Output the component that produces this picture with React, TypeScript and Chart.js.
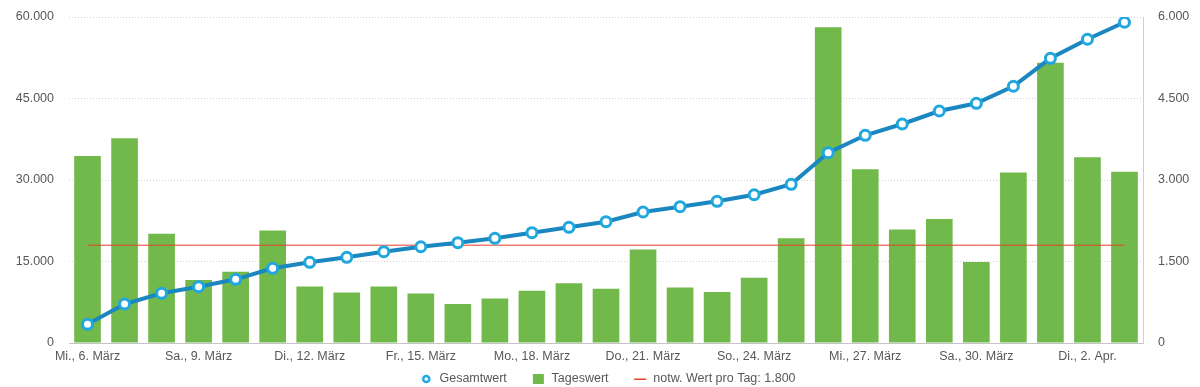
import React, { useEffect, useRef } from "react";
import { Chart, registerables } from "chart.js";

Chart.register(...registerables);

const categories = [
  "Mi., 6. März", "Do., 7. März", "Fr., 8. März", "Sa., 9. März", "So., 10. März",
  "Mo., 11. März", "Di., 12. März", "Mi., 13. März", "Do., 14. März", "Fr., 15. März",
  "Sa., 16. März", "So., 17. März", "Mo., 18. März", "Di., 19. März", "Mi., 20. März",
  "Do., 21. März", "Fr., 22. März", "Sa., 23. März", "So., 24. März", "Mo., 25. März",
  "Di., 26. März", "Mi., 27. März", "Do., 28. März", "Fr., 29. März", "Sa., 30. März",
  "So., 31. März", "Mo., 1. Apr.", "Di., 2. Apr.", "Mi., 3. Apr.",
];

const gesamtwert = [
  3440, 7180, 9150, 10360, 11720, 13750, 14850, 15770, 16800, 17720,
  18460, 19270, 20300, 21290, 22330, 24110, 25090, 26080, 27290, 29210,
  35030, 38230, 40310, 42700, 44120, 47250, 52400, 55900, 59030,
];

const tageswert = [
  3440, 3770, 2010, 1160, 1310, 2070, 1040, 930, 1040, 910,
  720, 820, 960, 1100, 1000, 1720, 1020, 940, 1200, 1930,
  5810, 3200, 2090, 2280, 1490, 3140, 5160, 3420, 3150,
];

const targetPerDay = 1800;
const targetLine = categories.map(() => targetPerDay);

const leftMax = 60000;
const leftStep = 15000;
const rightMax = 6000;
const rightStep = 1500;
const labelEvery = 3;

const FONT = "'Liberation Sans', Arial, Helvetica, sans-serif";
const TEXT = "#585858";

function fmt(n: number): string {
  return String(Math.round(n)).replace(/\B(?=(\d{3})+(?!\d))/g, ".");
}

// legend icon canvas: visible icon shifted right inside a wider transparent canvas
const ICON_BOX = 28.75; // legend pointStyleWidth
const ICON_SHIFT = 7.375; // offset of visible icon centre from canvas centre
function makeIcon(ih: number, draw: (ctx: CanvasRenderingContext2D, cx: number, cy: number) => void) {
  const w = 30;
  const h = Math.max(ih, 12);
  const c = document.createElement("canvas");
  c.width = w;
  c.height = h;
  const ctx = c.getContext("2d")!;
  draw(ctx, w / 2 + ICON_SHIFT, h / 2);
  return c;
}

export default function App() {
  const ref = useRef<HTMLCanvasElement>(null);

  useEffect(() => {
    const circleIcon = makeIcon(12, (ctx, cx, cy) => {
      ctx.beginPath();
      ctx.arc(cx, cy, 3.1, 0, Math.PI * 2);
      ctx.fillStyle = "#ffffff";
      ctx.fill();
      ctx.lineWidth = 2.5;
      ctx.strokeStyle = "#20a7df";
      ctx.stroke();
    });
    const squareIcon = makeIcon(12, (ctx, cx, cy) => {
      ctx.fillStyle = "#72b94c";
      ctx.fillRect(cx - 5.5, cy - 5, 11, 10);
    });
    const lineIcon = makeIcon(12, (ctx, cx, cy) => {
      ctx.fillStyle = "#e8412c";
      ctx.fillRect(cx - 6, cy - 0.5, 12, 1.5);
    });
    const icons = [circleIcon, squareIcon, lineIcon];

    const chart = new Chart(ref.current!, {
      type: "bar",
      data: {
        labels: categories,
        datasets: [
          {
            type: "line",
            label: "Gesamtwert",
            data: gesamtwert,
            yAxisID: "y",
            borderColor: "#1a87c1",
            borderWidth: 4,
            pointRadius: 5,
            pointBorderWidth: 3,
            pointBackgroundColor: "#ffffff",
            pointBorderColor: "#20a7df",
            pointStyle: "circle",
            tension: 0,
            order: 0,
          } as any,
          {
            type: "bar",
            label: "Tageswert",
            data: tageswert,
            yAxisID: "y1",
            backgroundColor: "#72b94c",
            borderWidth: 0,
            barPercentage: 0.72,
            categoryPercentage: 1,
            order: 2,
          },
          {
            type: "line",
            label: `notw. Wert pro Tag: ${fmt(targetPerDay)}`,
            data: targetLine,
            yAxisID: "y1",
            borderColor: "#e8412c",
            borderWidth: 1,
            pointRadius: 0,
            order: 1,
          } as any,
        ],
      },
      options: {
        animation: false,
        responsive: true,
        maintainAspectRatio: false,
        layout: { padding: { top: 17, bottom: -8.25, left: 0, right: 0 } },
        plugins: {
          tooltip: { enabled: false },
          legend: {
            position: "bottom",
            labels: {
              usePointStyle: true,
              pointStyleWidth: ICON_BOX,
              padding: 9.75,
              color: TEXT,
              font: { family: FONT, size: 12.5 },
              sort: (a: any, b: any) => a.datasetIndex - b.datasetIndex,
              generateLabels: (ch: any) => {
                const items = (Chart.defaults.plugins.legend.labels as any).generateLabels(ch);
                items.forEach((it: any) => {
                  it.pointStyle = icons[it.datasetIndex];
                });
                return items;
              },
            },
          },
        },
        scales: {
          x: {
            offset: true,
            grid: { display: false, drawTicks: false },
            border: { display: true, color: "#c4c4c4", width: 1 },
            ticks: {
              autoSkip: false,
              maxRotation: 0,
              minRotation: 0,
              padding: 6.5,
              color: TEXT,
              font: { family: FONT, size: 12.5 },
              callback: (_v: any, i: number) => (i % labelEvery === 0 ? categories[i] : null),
            },
            afterFit: (s: any) => {
              s.height = 20;
            },
          },
          y: {
            position: "left",
            min: 0,
            max: leftMax,
            grid: {
              color: "#d2d2d2",
              drawTicks: true,
              tickLength: 15,
              tickColor: "rgba(0,0,0,0)",
              lineWidth: 1,
            },
            border: { display: false, dash: [1, 2] },
            ticks: {
              stepSize: leftStep,
              padding: 0,
              color: TEXT,
              font: { family: FONT, size: 12.5 },
              callback: (v: any) => fmt(Number(v)),
            },
            afterFit: (s: any) => {
              s.width = 69;
            },
          },
          y1: {
            position: "right",
            min: 0,
            max: rightMax,
            grid: {
              display: true,
              drawOnChartArea: false,
              drawTicks: true,
              tickLength: 15,
              tickColor: "rgba(0,0,0,0)",
            },
            border: { display: true, color: "#cfcfcf", width: 1 },
            ticks: {
              stepSize: rightStep,
              padding: 0,
              color: TEXT,
              font: { family: FONT, size: 12.5 },
              callback: (v: any) => fmt(Number(v)),
            },
            afterFit: (s: any) => {
              s.width = 57;
            },
          },
        },
      } as any,
    });
    return () => chart.destroy();
  }, []);

  return (
    <div style={{ position: "absolute", left: 0, top: 0, width: 1200, height: 387 }}>
      <canvas ref={ref} />
    </div>
  );
}
